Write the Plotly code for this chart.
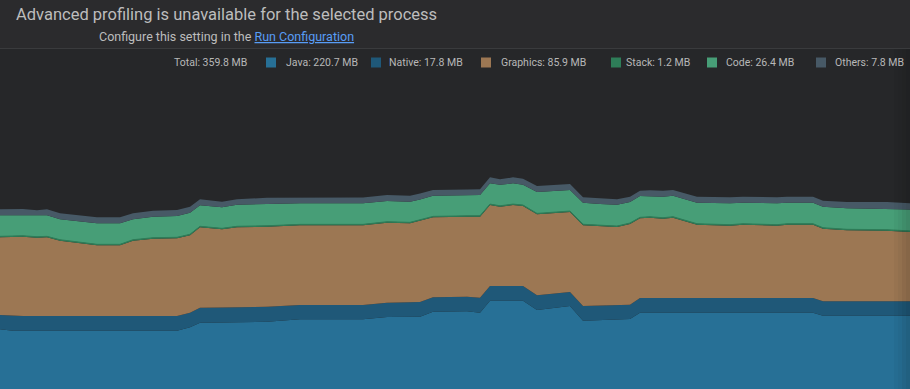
import plotly.graph_objects as go

# ---- data (MB) ----
time_s = [0, 13, 23, 37, 47, 60, 97, 120, 133, 153,
          177, 190, 200, 222, 237, 267, 300, 363, 387, 410,
          420, 433, 467, 480, 490, 500, 513, 523, 537, 570,
          583, 600, 617, 630, 640, 650, 663, 673, 697, 730,
          743, 777, 787, 813, 823, 847, 887, 910]

java = [203.8, 202.1, 202.1, 202.1, 202.1, 202.1, 202.1, 202.1, 202.1, 202.1,
        202.1, 206.3, 212.0, 212.2, 212.5, 213.2, 216.2, 216.2, 219.1, 219.4,
        219.4, 225.6, 226.1, 224.4, 239.2, 239.2, 239.2, 239.2, 227.7, 232.7,
        214.5, 215.3, 215.3, 216.6, 224.4, 224.4, 224.4, 224.4, 224.4, 224.4,
        224.4, 224.4, 224.4, 224.4, 220.7, 220.7, 220.7, 220.7]

native = [17.7, 18.2, 18.2, 18.2, 18.2, 18.2, 18.2, 18.2, 18.2, 18.2,
          18.2, 18.1, 18.6, 18.6, 18.6, 18.6, 17.7, 17.7, 17.7, 18.2,
          18.2, 17.8, 18.1, 18.6, 18.2, 18.2, 18.2, 18.2, 18.2, 17.3,
          18.2, 17.7, 18.2, 17.7, 18.2, 18.2, 18.2, 18.2, 18.2, 18.2,
          18.2, 18.2, 18.2, 18.2, 17.8, 17.6, 17.5, 17.8]

graphics = [96.2, 97.4, 98.1, 96.9, 97.4, 93.2, 87.5, 87.5, 93.2, 95.7,
            96.2, 95.8, 99.5, 96.8, 99.0, 99.0, 98.6, 98.6, 99.0, 97.4,
            100.6, 99.0, 98.9, 100.2, 100.2, 98.1, 100.2, 99.0, 100.2, 99.0,
            99.9, 98.6, 96.9, 99.9, 98.6, 99.4, 98.1, 99.4, 90.7, 89.5,
            90.7, 89.5, 90.7, 90.7, 89.9, 88.1, 87.7, 85.9]

stack = [1.2] * len(time_s)

code = [26.0, 26.0, 25.7, 26.0, 26.0, 25.3, 26.0, 26.0, 25.3, 26.0,
        26.4, 26.8, 26.0, 26.0, 26.8, 26.9, 26.0, 26.0, 25.7, 25.5,
        25.0, 25.5, 25.5, 25.7, 25.7, 26.0, 25.7, 25.2, 26.4, 26.0,
        26.8, 26.0, 26.4, 26.0, 26.4, 25.4, 26.0, 26.0, 26.0, 26.5,
        26.0, 26.5, 26.0, 26.0, 26.0, 26.0, 26.0, 26.4]

others = [7.4, 7.4, 7.4, 6.7, 7.4, 7.4, 7.4, 7.4, 7.4, 7.4,
          7.4, 7.4, 7.4, 6.9, 6.7, 7.8, 7.4, 7.4, 7.4, 7.4,
          7.4, 7.1, 7.1, 7.1, 7.4, 6.7, 7.4, 7.4, 7.4, 7.4,
          6.7, 7.4, 6.7, 6.6, 6.6, 7.3, 7.4, 7.1, 7.4, 7.4,
          7.4, 7.4, 7.4, 7.4, 7.4, 7.8, 8.3, 7.8]

series_names = ["Java", "Native", "Graphics", "Stack", "Code", "Others"]
series_values = [java, native, graphics, stack, code, others]
series_colors = ["#277096", "#1f5878", "#9c7753", "#2e7d58", "#479e77", "#475966"]

title_text = "Advanced profiling is unavailable for the selected process"
subtitle_text = "Configure this setting in the "
link_text = "Run Configuration"

# ---- layout helpers ----
W, H = 910, 389
def px(x):
    return x / W
def py(y):
    return (H - y) / H

fig = go.Figure()
for name, vals, col in zip(series_names, series_values, series_colors):
    lw = 1 if name == "Stack" else 0
    fig.add_trace(go.Scatter(
        x=time_s, y=vals, name=name, stackgroup="one", mode="lines",
        line=dict(width=lw, color=col), fillcolor=col, hoverinfo="skip",
        showlegend=False,
    ))

shapes = [
    dict(type="rect", xref="paper", yref="paper", x0=0, x1=1, y0=py(48), y1=1,
         fillcolor="#2b2b2d", line=dict(width=0), layer="below"),
    dict(type="line", xref="paper", yref="paper", x0=0, x1=1, y0=py(48.5), y1=py(48.5),
         line=dict(color="#3a3b3d", width=1)),
]
# right edge fade
for i, op in enumerate([0.03, 0.06, 0.1, 0.14]):
    shapes.append(dict(type="rect", xref="paper", yref="paper",
                       x0=px(894 + 4 * i), x1=px(898 + 4 * i), y0=0, y1=py(49),
                       fillcolor="black", opacity=op, line=dict(width=0), layer="above"))

font_fam = "Roboto, Liberation Sans, Arial, sans-serif"
anns = [
    dict(text=title_text, x=px(14), y=py(14), xref="paper", yref="paper",
         xanchor="left", yanchor="middle", showarrow=False,
         font=dict(family=font_fam, size=16.5, color="#bdbdbd")),
    dict(text=subtitle_text + "<span style='color:#589df6'><u>" + link_text + "</u></span>",
         x=px(97), y=py(36), xref="paper", yref="paper",
         xanchor="left", yanchor="middle", showarrow=False,
         font=dict(family=font_fam, size=12.5, color="#bdbdbd")),
]

# legend row
total = sum(v[-1] for v in series_values)
leg_y = 62.5
anns.append(dict(text=f"Total: {total:.1f} MB", x=px(172), y=py(leg_y), xref="paper", yref="paper",
                 xanchor="left", yanchor="middle", showarrow=False,
                 font=dict(family=font_fam, size=10.5, color="#b8b8b8")))
square_x = [266, 371, 481, 611, 707, 816]
text_x = [284, 387, 499, 624, 724, 833]
for name, vals, col, sx, tx in zip(series_names, series_values, series_colors, square_x, text_x):
    shapes.append(dict(type="rect", xref="paper", yref="paper",
                       x0=px(sx), x1=px(sx + 10), y0=py(67.5), y1=py(57.5),
                       fillcolor=col, line=dict(width=0)))
    anns.append(dict(text=f"{name}: {vals[-1]:.1f} MB", x=px(tx), y=py(leg_y),
                     xref="paper", yref="paper", xanchor="left", yanchor="middle",
                     showarrow=False, font=dict(family=font_fam, size=10.5, color="#b8b8b8")))

fig.update_layout(
    width=W, height=H,
    margin=dict(l=0, r=0, t=0, b=0, pad=0),
    paper_bgcolor="#262729", plot_bgcolor="#262729",
    xaxis=dict(range=[0, 910], visible=False, fixedrange=True),
    yaxis=dict(range=[129.95, 611.4], visible=False, fixedrange=True),
    shapes=shapes, annotations=anns, hovermode=False, showlegend=False,
)

fig.write_html(
    "out.html",
    config={"displayModeBar": False},
    post_script="document.body.style.margin='0';document.body.style.overflow='hidden';"
                "document.body.style.background='#262729';",
)
